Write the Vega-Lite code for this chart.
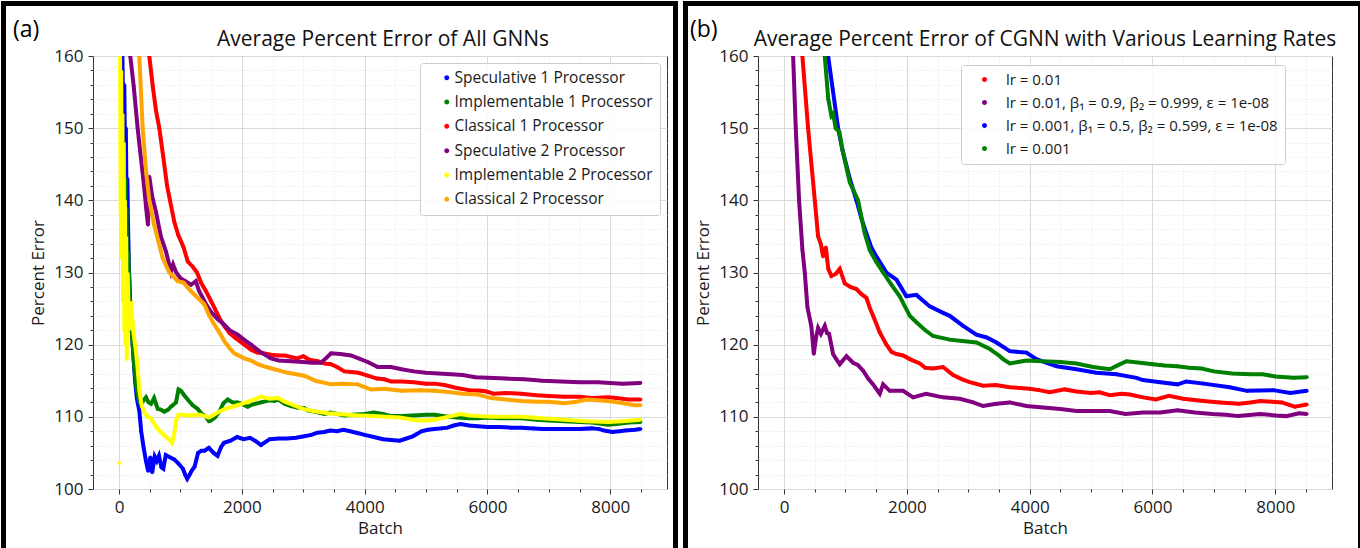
{
 "$schema": "https://vega.github.io/schema/vega-lite/v6.json",
 "padding": 0,
 "background": "white",
 "spacing": 3,
 "resolve": {"scale": {"color": "independent"}, "legend": {"color": "independent"}},
 "config": {
  "font": "Open Sans",
  "view": {"stroke": "#333333", "strokeWidth": 1},
  "axis": {"labelFontSize": 17, "labelColor": "#1a1a1a", "titleFontSize": 17, "titleFontWeight": "normal", "titleColor": "#1a1a1a", "tickColor": "#333333", "domain": false, "gridColor": "#d9d9d9", "labelFont": "Open Sans", "titleFont": "Open Sans"},
  "legend": {"labelColor": "#1a1a1a", "labelFont": "Open Sans", "labelLimit": 500},
  "text": {"font": "Open Sans"}
 },
 "datasets": {
  "a": [
   {"s":"Speculative 1 Processor","b":30,"e":170},{"s":"Speculative 1 Processor","b":55,"e":159},{"s":"Speculative 1 Processor","b":70,"e":152},{"s":"Speculative 1 Processor","b":85,"e":156},{"s":"Speculative 1 Processor","b":95,"e":147},{"s":"Speculative 1 Processor","b":110,"e":150},{"s":"Speculative 1 Processor","b":120,"e":141},{"s":"Speculative 1 Processor","b":135,"e":143},{"s":"Speculative 1 Processor","b":145,"e":137},{"s":"Speculative 1 Processor","b":160,"e":131},{"s":"Speculative 1 Processor","b":180,"e":126},{"s":"Speculative 1 Processor","b":200,"e":123},{"s":"Speculative 1 Processor","b":230,"e":119},{"s":"Speculative 1 Processor","b":260,"e":115},{"s":"Speculative 1 Processor","b":290,"e":112.5},{"s":"Speculative 1 Processor","b":330,"e":110.8},{"s":"Speculative 1 Processor","b":360,"e":108},{"s":"Speculative 1 Processor","b":400,"e":105.7},{"s":"Speculative 1 Processor","b":440,"e":103.8},{"s":"Speculative 1 Processor","b":473,"e":102.5},{"s":"Speculative 1 Processor","b":509,"e":104.4},{"s":"Speculative 1 Processor","b":540,"e":102.3},{"s":"Speculative 1 Processor","b":580,"e":104.5},{"s":"Speculative 1 Processor","b":615,"e":103.9},{"s":"Speculative 1 Processor","b":650,"e":104.6},{"s":"Speculative 1 Processor","b":690,"e":103},{"s":"Speculative 1 Processor","b":721,"e":102.8},{"s":"Speculative 1 Processor","b":760,"e":104.7},{"s":"Speculative 1 Processor","b":827,"e":104.4},{"s":"Speculative 1 Processor","b":898,"e":104.1},{"s":"Speculative 1 Processor","b":960,"e":103.6},{"s":"Speculative 1 Processor","b":1039,"e":102.8},{"s":"Speculative 1 Processor","b":1080,"e":101.9},{"s":"Speculative 1 Processor","b":1110,"e":101.4},{"s":"Speculative 1 Processor","b":1150,"e":102},{"s":"Speculative 1 Processor","b":1180,"e":102.5},{"s":"Speculative 1 Processor","b":1230,"e":103.1},{"s":"Speculative 1 Processor","b":1286,"e":105},{"s":"Speculative 1 Processor","b":1340,"e":105.3},{"s":"Speculative 1 Processor","b":1392,"e":105.3},{"s":"Speculative 1 Processor","b":1463,"e":105.7},{"s":"Speculative 1 Processor","b":1540,"e":105},{"s":"Speculative 1 Processor","b":1604,"e":104.6},{"s":"Speculative 1 Processor","b":1660,"e":105.8},{"s":"Speculative 1 Processor","b":1710,"e":106.4},{"s":"Speculative 1 Processor","b":1816,"e":106.7},{"s":"Speculative 1 Processor","b":1922,"e":107.2},{"s":"Speculative 1 Processor","b":2028,"e":106.9},{"s":"Speculative 1 Processor","b":2134,"e":107.1},{"s":"Speculative 1 Processor","b":2230,"e":106.6},{"s":"Speculative 1 Processor","b":2311,"e":106.1},{"s":"Speculative 1 Processor","b":2400,"e":106.6},{"s":"Speculative 1 Processor","b":2452,"e":106.9},{"s":"Speculative 1 Processor","b":2600,"e":107},{"s":"Speculative 1 Processor","b":2735,"e":107},{"s":"Speculative 1 Processor","b":2880,"e":107.1},{"s":"Speculative 1 Processor","b":3017,"e":107.3},{"s":"Speculative 1 Processor","b":3130,"e":107.5},{"s":"Speculative 1 Processor","b":3230,"e":107.8},{"s":"Speculative 1 Processor","b":3340,"e":107.9},{"s":"Speculative 1 Processor","b":3442,"e":108.1},{"s":"Speculative 1 Processor","b":3550,"e":108},{"s":"Speculative 1 Processor","b":3654,"e":108.2},{"s":"Speculative 1 Processor","b":3760,"e":108},{"s":"Speculative 1 Processor","b":3866,"e":107.8},{"s":"Speculative 1 Processor","b":4000,"e":107.5},{"s":"Speculative 1 Processor","b":4148,"e":107.2},{"s":"Speculative 1 Processor","b":4300,"e":106.9},{"s":"Speculative 1 Processor","b":4431,"e":106.8},{"s":"Speculative 1 Processor","b":4572,"e":106.7},{"s":"Speculative 1 Processor","b":4680,"e":107},{"s":"Speculative 1 Processor","b":4784,"e":107.3},{"s":"Speculative 1 Processor","b":4926,"e":108},{"s":"Speculative 1 Processor","b":5030,"e":108.2},{"s":"Speculative 1 Processor","b":5138,"e":108.3},{"s":"Speculative 1 Processor","b":5250,"e":108.4},{"s":"Speculative 1 Processor","b":5350,"e":108.5},{"s":"Speculative 1 Processor","b":5450,"e":108.8},{"s":"Speculative 1 Processor","b":5562,"e":109},{"s":"Speculative 1 Processor","b":5700,"e":108.8},{"s":"Speculative 1 Processor","b":5844,"e":108.7},{"s":"Speculative 1 Processor","b":6000,"e":108.6},{"s":"Speculative 1 Processor","b":6198,"e":108.6},{"s":"Speculative 1 Processor","b":6380,"e":108.5},{"s":"Speculative 1 Processor","b":6551,"e":108.5},{"s":"Speculative 1 Processor","b":6750,"e":108.4},{"s":"Speculative 1 Processor","b":6904,"e":108.3},{"s":"Speculative 1 Processor","b":7100,"e":108.3},{"s":"Speculative 1 Processor","b":7258,"e":108.3},{"s":"Speculative 1 Processor","b":7500,"e":108.3},{"s":"Speculative 1 Processor","b":7700,"e":108.4},{"s":"Speculative 1 Processor","b":7823,"e":108.3},{"s":"Speculative 1 Processor","b":7900,"e":108.1},{"s":"Speculative 1 Processor","b":8035,"e":107.9},{"s":"Speculative 1 Processor","b":8150,"e":108},{"s":"Speculative 1 Processor","b":8247,"e":108.1},{"s":"Speculative 1 Processor","b":8400,"e":108.2},{"s":"Speculative 1 Processor","b":8495,"e":108.3},
   {"s":"Implementable 1 Processor","b":60,"e":146},{"s":"Implementable 1 Processor","b":70,"e":130},{"s":"Implementable 1 Processor","b":80,"e":148},{"s":"Implementable 1 Processor","b":90,"e":128},{"s":"Implementable 1 Processor","b":100,"e":143},{"s":"Implementable 1 Processor","b":110,"e":127},{"s":"Implementable 1 Processor","b":120,"e":139},{"s":"Implementable 1 Processor","b":130,"e":129},{"s":"Implementable 1 Processor","b":150,"e":133},{"s":"Implementable 1 Processor","b":170,"e":127},{"s":"Implementable 1 Processor","b":194,"e":123.7},{"s":"Implementable 1 Processor","b":220,"e":120},{"s":"Implementable 1 Processor","b":248,"e":116.7},{"s":"Implementable 1 Processor","b":275,"e":114.5},{"s":"Implementable 1 Processor","b":302,"e":113.2},{"s":"Implementable 1 Processor","b":330,"e":112},{"s":"Implementable 1 Processor","b":357,"e":111.8},{"s":"Implementable 1 Processor","b":400,"e":112.3},{"s":"Implementable 1 Processor","b":438,"e":112.7},{"s":"Implementable 1 Processor","b":480,"e":112},{"s":"Implementable 1 Processor","b":520,"e":111.8},{"s":"Implementable 1 Processor","b":570,"e":112.6},{"s":"Implementable 1 Processor","b":629,"e":111.1},{"s":"Implementable 1 Processor","b":680,"e":111},{"s":"Implementable 1 Processor","b":736,"e":110.7},{"s":"Implementable 1 Processor","b":800,"e":111},{"s":"Implementable 1 Processor","b":845,"e":111.4},{"s":"Implementable 1 Processor","b":927,"e":112},{"s":"Implementable 1 Processor","b":968,"e":113.8},{"s":"Implementable 1 Processor","b":1008,"e":113.6},{"s":"Implementable 1 Processor","b":1060,"e":113},{"s":"Implementable 1 Processor","b":1117,"e":112.4},{"s":"Implementable 1 Processor","b":1200,"e":111.6},{"s":"Implementable 1 Processor","b":1280,"e":111.1},{"s":"Implementable 1 Processor","b":1350,"e":110.4},{"s":"Implementable 1 Processor","b":1416,"e":110},{"s":"Implementable 1 Processor","b":1463,"e":109.4},{"s":"Implementable 1 Processor","b":1497,"e":109.5},{"s":"Implementable 1 Processor","b":1560,"e":109.9},{"s":"Implementable 1 Processor","b":1633,"e":110.7},{"s":"Implementable 1 Processor","b":1700,"e":111.9},{"s":"Implementable 1 Processor","b":1769,"e":112.4},{"s":"Implementable 1 Processor","b":1850,"e":112},{"s":"Implementable 1 Processor","b":1932,"e":112},{"s":"Implementable 1 Processor","b":2000,"e":111.8},{"s":"Implementable 1 Processor","b":2095,"e":111.4},{"s":"Implementable 1 Processor","b":2170,"e":111.7},{"s":"Implementable 1 Processor","b":2312,"e":112},{"s":"Implementable 1 Processor","b":2450,"e":112.3},{"s":"Implementable 1 Processor","b":2528,"e":112.2},{"s":"Implementable 1 Processor","b":2594,"e":112.4},{"s":"Implementable 1 Processor","b":2700,"e":111.8},{"s":"Implementable 1 Processor","b":2800,"e":111.5},{"s":"Implementable 1 Processor","b":2900,"e":111.3},{"s":"Implementable 1 Processor","b":3017,"e":111.2},{"s":"Implementable 1 Processor","b":3072,"e":110.9},{"s":"Implementable 1 Processor","b":3200,"e":110.7},{"s":"Implementable 1 Processor","b":3344,"e":110.4},{"s":"Implementable 1 Processor","b":3442,"e":110.6},{"s":"Implementable 1 Processor","b":3560,"e":110.4},{"s":"Implementable 1 Processor","b":3669,"e":110.2},{"s":"Implementable 1 Processor","b":3800,"e":110.3},{"s":"Implementable 1 Processor","b":4000,"e":110.4},{"s":"Implementable 1 Processor","b":4148,"e":110.6},{"s":"Implementable 1 Processor","b":4300,"e":110.4},{"s":"Implementable 1 Processor","b":4431,"e":110.1},{"s":"Implementable 1 Processor","b":4600,"e":110.1},{"s":"Implementable 1 Processor","b":4800,"e":110.2},{"s":"Implementable 1 Processor","b":5000,"e":110.3},{"s":"Implementable 1 Processor","b":5138,"e":110.3},{"s":"Implementable 1 Processor","b":5300,"e":110.1},{"s":"Implementable 1 Processor","b":5500,"e":109.9},{"s":"Implementable 1 Processor","b":5700,"e":109.8},{"s":"Implementable 1 Processor","b":5844,"e":109.8},{"s":"Implementable 1 Processor","b":6000,"e":109.9},{"s":"Implementable 1 Processor","b":6200,"e":109.8},{"s":"Implementable 1 Processor","b":6400,"e":109.8},{"s":"Implementable 1 Processor","b":6551,"e":109.8},{"s":"Implementable 1 Processor","b":6800,"e":109.6},{"s":"Implementable 1 Processor","b":7000,"e":109.5},{"s":"Implementable 1 Processor","b":7258,"e":109.4},{"s":"Implementable 1 Processor","b":7500,"e":109.3},{"s":"Implementable 1 Processor","b":7700,"e":109.2},{"s":"Implementable 1 Processor","b":7965,"e":108.9},{"s":"Implementable 1 Processor","b":8100,"e":109},{"s":"Implementable 1 Processor","b":8300,"e":109.2},{"s":"Implementable 1 Processor","b":8495,"e":109.3},
   {"s":"Classical 1 Processor","b":470,"e":165},{"s":"Classical 1 Processor","b":492,"e":160},{"s":"Classical 1 Processor","b":547,"e":155.9},{"s":"Classical 1 Processor","b":600,"e":152.5},{"s":"Classical 1 Processor","b":655,"e":150},{"s":"Classical 1 Processor","b":720,"e":146},{"s":"Classical 1 Processor","b":780,"e":142.1},{"s":"Classical 1 Processor","b":829,"e":140},{"s":"Classical 1 Processor","b":900,"e":137},{"s":"Classical 1 Processor","b":964,"e":135.2},{"s":"Classical 1 Processor","b":1050,"e":133.5},{"s":"Classical 1 Processor","b":1120,"e":131.5},{"s":"Classical 1 Processor","b":1200,"e":130.8},{"s":"Classical 1 Processor","b":1269,"e":130},{"s":"Classical 1 Processor","b":1340,"e":128.5},{"s":"Classical 1 Processor","b":1416,"e":127.4},{"s":"Classical 1 Processor","b":1500,"e":126},{"s":"Classical 1 Processor","b":1560,"e":125},{"s":"Classical 1 Processor","b":1633,"e":123.7},{"s":"Classical 1 Processor","b":1720,"e":122.5},{"s":"Classical 1 Processor","b":1800,"e":121.6},{"s":"Classical 1 Processor","b":1900,"e":120.9},{"s":"Classical 1 Processor","b":2040,"e":120},{"s":"Classical 1 Processor","b":2150,"e":119.3},{"s":"Classical 1 Processor","b":2250,"e":118.9},{"s":"Classical 1 Processor","b":2350,"e":118.8},{"s":"Classical 1 Processor","b":2474,"e":118.6},{"s":"Classical 1 Processor","b":2600,"e":118.5},{"s":"Classical 1 Processor","b":2700,"e":118.5},{"s":"Classical 1 Processor","b":2800,"e":118.3},{"s":"Classical 1 Processor","b":2900,"e":118.1},{"s":"Classical 1 Processor","b":3000,"e":118.4},{"s":"Classical 1 Processor","b":3100,"e":117.9},{"s":"Classical 1 Processor","b":3235,"e":117.7},{"s":"Classical 1 Processor","b":3350,"e":117.4},{"s":"Classical 1 Processor","b":3450,"e":117.3},{"s":"Classical 1 Processor","b":3550,"e":116.9},{"s":"Classical 1 Processor","b":3669,"e":116.3},{"s":"Classical 1 Processor","b":3780,"e":116.2},{"s":"Classical 1 Processor","b":3900,"e":116.1},{"s":"Classical 1 Processor","b":4050,"e":115.7},{"s":"Classical 1 Processor","b":4200,"e":115.3},{"s":"Classical 1 Processor","b":4320,"e":115.2},{"s":"Classical 1 Processor","b":4430,"e":114.9},{"s":"Classical 1 Processor","b":4600,"e":114.9},{"s":"Classical 1 Processor","b":4800,"e":114.8},{"s":"Classical 1 Processor","b":5000,"e":114.6},{"s":"Classical 1 Processor","b":5138,"e":114.6},{"s":"Classical 1 Processor","b":5300,"e":114.4},{"s":"Classical 1 Processor","b":5500,"e":114},{"s":"Classical 1 Processor","b":5700,"e":113.7},{"s":"Classical 1 Processor","b":5900,"e":113.6},{"s":"Classical 1 Processor","b":5986,"e":113.5},{"s":"Classical 1 Processor","b":6100,"e":113.2},{"s":"Classical 1 Processor","b":6300,"e":113.3},{"s":"Classical 1 Processor","b":6551,"e":113.2},{"s":"Classical 1 Processor","b":6800,"e":113},{"s":"Classical 1 Processor","b":7000,"e":112.9},{"s":"Classical 1 Processor","b":7258,"e":112.8},{"s":"Classical 1 Processor","b":7500,"e":112.8},{"s":"Classical 1 Processor","b":7700,"e":112.6},{"s":"Classical 1 Processor","b":7965,"e":112.7},{"s":"Classical 1 Processor","b":8100,"e":112.6},{"s":"Classical 1 Processor","b":8300,"e":112.4},{"s":"Classical 1 Processor","b":8495,"e":112.4},
   {"s":"Speculative 2 Processor","b":160,"e":170},{"s":"Speculative 2 Processor","b":182,"e":160},{"s":"Speculative 2 Processor","b":237,"e":155.9},{"s":"Speculative 2 Processor","b":302,"e":150},{"s":"Speculative 2 Processor","b":345,"e":146.7},{"s":"Speculative 2 Processor","b":400,"e":142.5},{"s":"Speculative 2 Processor","b":440,"e":139},{"s":"Speculative 2 Processor","b":470,"e":136.6},{"s":"Speculative 2 Processor","b":480,"e":142},{"s":"Speculative 2 Processor","b":492,"e":143.3},{"s":"Speculative 2 Processor","b":540,"e":140.5},{"s":"Speculative 2 Processor","b":601,"e":138.4},{"s":"Speculative 2 Processor","b":680,"e":135},{"s":"Speculative 2 Processor","b":764,"e":132.9},{"s":"Speculative 2 Processor","b":845,"e":130.1},{"s":"Speculative 2 Processor","b":880,"e":131.1},{"s":"Speculative 2 Processor","b":930,"e":130},{"s":"Speculative 2 Processor","b":1000,"e":129.2},{"s":"Speculative 2 Processor","b":1080,"e":128.8},{"s":"Speculative 2 Processor","b":1171,"e":128.3},{"s":"Speculative 2 Processor","b":1250,"e":128.8},{"s":"Speculative 2 Processor","b":1300,"e":127.5},{"s":"Speculative 2 Processor","b":1416,"e":125.6},{"s":"Speculative 2 Processor","b":1500,"e":124.5},{"s":"Speculative 2 Processor","b":1600,"e":123.6},{"s":"Speculative 2 Processor","b":1709,"e":122.8},{"s":"Speculative 2 Processor","b":1800,"e":122},{"s":"Speculative 2 Processor","b":1932,"e":121.4},{"s":"Speculative 2 Processor","b":2050,"e":120.6},{"s":"Speculative 2 Processor","b":2149,"e":120},{"s":"Speculative 2 Processor","b":2300,"e":119},{"s":"Speculative 2 Processor","b":2474,"e":118.1},{"s":"Speculative 2 Processor","b":2600,"e":117.8},{"s":"Speculative 2 Processor","b":2800,"e":117.7},{"s":"Speculative 2 Processor","b":3000,"e":117.6},{"s":"Speculative 2 Processor","b":3150,"e":117.5},{"s":"Speculative 2 Processor","b":3289,"e":117.5},{"s":"Speculative 2 Processor","b":3380,"e":118.2},{"s":"Speculative 2 Processor","b":3452,"e":118.8},{"s":"Speculative 2 Processor","b":3600,"e":118.7},{"s":"Speculative 2 Processor","b":3778,"e":118.5},{"s":"Speculative 2 Processor","b":3900,"e":118.1},{"s":"Speculative 2 Processor","b":4050,"e":117.6},{"s":"Speculative 2 Processor","b":4213,"e":116.9},{"s":"Speculative 2 Processor","b":4430,"e":116.9},{"s":"Speculative 2 Processor","b":4600,"e":116.6},{"s":"Speculative 2 Processor","b":4800,"e":116.3},{"s":"Speculative 2 Processor","b":5000,"e":116.1},{"s":"Speculative 2 Processor","b":5200,"e":116},{"s":"Speculative 2 Processor","b":5400,"e":115.9},{"s":"Speculative 2 Processor","b":5600,"e":115.8},{"s":"Speculative 2 Processor","b":5800,"e":115.5},{"s":"Speculative 2 Processor","b":6000,"e":115.4},{"s":"Speculative 2 Processor","b":6300,"e":115.3},{"s":"Speculative 2 Processor","b":6600,"e":115.2},{"s":"Speculative 2 Processor","b":6900,"e":115},{"s":"Speculative 2 Processor","b":7200,"e":114.9},{"s":"Speculative 2 Processor","b":7500,"e":114.8},{"s":"Speculative 2 Processor","b":7800,"e":114.8},{"s":"Speculative 2 Processor","b":8000,"e":114.7},{"s":"Speculative 2 Processor","b":8200,"e":114.6},{"s":"Speculative 2 Processor","b":8495,"e":114.7},
   {"s":"Implementable 2 Processor","b":0,"e":103.6,"g":1},{"s":"Implementable 2 Processor","b":15,"e":162},{"s":"Implementable 2 Processor","b":25,"e":138},{"s":"Implementable 2 Processor","b":35,"e":158},{"s":"Implementable 2 Processor","b":45,"e":132},{"s":"Implementable 2 Processor","b":55,"e":152},{"s":"Implementable 2 Processor","b":65,"e":126},{"s":"Implementable 2 Processor","b":75,"e":148},{"s":"Implementable 2 Processor","b":85,"e":122},{"s":"Implementable 2 Processor","b":95,"e":140},{"s":"Implementable 2 Processor","b":105,"e":120},{"s":"Implementable 2 Processor","b":115,"e":135},{"s":"Implementable 2 Processor","b":125,"e":118},{"s":"Implementable 2 Processor","b":140,"e":130},{"s":"Implementable 2 Processor","b":160,"e":122},{"s":"Implementable 2 Processor","b":194,"e":126},{"s":"Implementable 2 Processor","b":230,"e":122},{"s":"Implementable 2 Processor","b":275,"e":119},{"s":"Implementable 2 Processor","b":302,"e":116.7},{"s":"Implementable 2 Processor","b":332,"e":113.5},{"s":"Implementable 2 Processor","b":370,"e":111.5},{"s":"Implementable 2 Processor","b":420,"e":110.5},{"s":"Implementable 2 Processor","b":466,"e":110},{"s":"Implementable 2 Processor","b":509,"e":109.9},{"s":"Implementable 2 Processor","b":560,"e":109.2},{"s":"Implementable 2 Processor","b":615,"e":108.5},{"s":"Implementable 2 Processor","b":690,"e":107.8},{"s":"Implementable 2 Processor","b":756,"e":107.3},{"s":"Implementable 2 Processor","b":820,"e":106.8},{"s":"Implementable 2 Processor","b":862,"e":106.4},{"s":"Implementable 2 Processor","b":898,"e":107.6},{"s":"Implementable 2 Processor","b":930,"e":109.5},{"s":"Implementable 2 Processor","b":968,"e":110.3},{"s":"Implementable 2 Processor","b":1039,"e":110.3},{"s":"Implementable 2 Processor","b":1150,"e":110.2},{"s":"Implementable 2 Processor","b":1250,"e":110.3},{"s":"Implementable 2 Processor","b":1322,"e":110.3},{"s":"Implementable 2 Processor","b":1400,"e":110.1},{"s":"Implementable 2 Processor","b":1463,"e":109.9},{"s":"Implementable 2 Processor","b":1530,"e":110.2},{"s":"Implementable 2 Processor","b":1604,"e":110.6},{"s":"Implementable 2 Processor","b":1700,"e":111},{"s":"Implementable 2 Processor","b":1800,"e":111.3},{"s":"Implementable 2 Processor","b":1887,"e":111.5},{"s":"Implementable 2 Processor","b":2000,"e":111.8},{"s":"Implementable 2 Processor","b":2134,"e":112.2},{"s":"Implementable 2 Processor","b":2230,"e":112.5},{"s":"Implementable 2 Processor","b":2311,"e":112.8},{"s":"Implementable 2 Processor","b":2450,"e":112.5},{"s":"Implementable 2 Processor","b":2594,"e":112.6},{"s":"Implementable 2 Processor","b":2700,"e":112.1},{"s":"Implementable 2 Processor","b":2876,"e":111.5},{"s":"Implementable 2 Processor","b":3000,"e":111.1},{"s":"Implementable 2 Processor","b":3159,"e":110.8},{"s":"Implementable 2 Processor","b":3400,"e":110.5},{"s":"Implementable 2 Processor","b":3724,"e":110.3},{"s":"Implementable 2 Processor","b":3900,"e":110.2},{"s":"Implementable 2 Processor","b":4148,"e":110.1},{"s":"Implementable 2 Processor","b":4350,"e":110},{"s":"Implementable 2 Processor","b":4572,"e":109.9},{"s":"Implementable 2 Processor","b":4855,"e":109.5},{"s":"Implementable 2 Processor","b":5000,"e":109.5},{"s":"Implementable 2 Processor","b":5138,"e":109.6},{"s":"Implementable 2 Processor","b":5350,"e":110},{"s":"Implementable 2 Processor","b":5562,"e":110.4},{"s":"Implementable 2 Processor","b":5700,"e":110.2},{"s":"Implementable 2 Processor","b":5844,"e":110.1},{"s":"Implementable 2 Processor","b":6100,"e":110},{"s":"Implementable 2 Processor","b":6551,"e":110},{"s":"Implementable 2 Processor","b":6900,"e":109.8},{"s":"Implementable 2 Processor","b":7258,"e":109.6},{"s":"Implementable 2 Processor","b":7600,"e":109.4},{"s":"Implementable 2 Processor","b":7965,"e":109.3},{"s":"Implementable 2 Processor","b":8200,"e":109.4},{"s":"Implementable 2 Processor","b":8495,"e":109.6},
   {"s":"Classical 2 Processor","b":310,"e":170},{"s":"Classical 2 Processor","b":329,"e":160},{"s":"Classical 2 Processor","b":384,"e":150},{"s":"Classical 2 Processor","b":440,"e":144},{"s":"Classical 2 Processor","b":492,"e":140},{"s":"Classical 2 Processor","b":560,"e":137},{"s":"Classical 2 Processor","b":628,"e":134.7},{"s":"Classical 2 Processor","b":710,"e":132},{"s":"Classical 2 Processor","b":818,"e":130},{"s":"Classical 2 Processor","b":880,"e":129.5},{"s":"Classical 2 Processor","b":954,"e":128.8},{"s":"Classical 2 Processor","b":1050,"e":128.6},{"s":"Classical 2 Processor","b":1171,"e":127.4},{"s":"Classical 2 Processor","b":1280,"e":126.5},{"s":"Classical 2 Processor","b":1388,"e":125.6},{"s":"Classical 2 Processor","b":1470,"e":124},{"s":"Classical 2 Processor","b":1551,"e":122.8},{"s":"Classical 2 Processor","b":1640,"e":121.6},{"s":"Classical 2 Processor","b":1714,"e":120.5},{"s":"Classical 2 Processor","b":1800,"e":119.5},{"s":"Classical 2 Processor","b":1877,"e":118.8},{"s":"Classical 2 Processor","b":2040,"e":118.1},{"s":"Classical 2 Processor","b":2150,"e":117.8},{"s":"Classical 2 Processor","b":2257,"e":117.3},{"s":"Classical 2 Processor","b":2400,"e":116.9},{"s":"Classical 2 Processor","b":2528,"e":116.6},{"s":"Classical 2 Processor","b":2750,"e":116.1},{"s":"Classical 2 Processor","b":3017,"e":115.7},{"s":"Classical 2 Processor","b":3200,"e":115},{"s":"Classical 2 Processor","b":3452,"e":114.5},{"s":"Classical 2 Processor","b":3650,"e":114.6},{"s":"Classical 2 Processor","b":3887,"e":114.5},{"s":"Classical 2 Processor","b":4100,"e":113.8},{"s":"Classical 2 Processor","b":4320,"e":113.9},{"s":"Classical 2 Processor","b":4600,"e":113.6},{"s":"Classical 2 Processor","b":4900,"e":113.7},{"s":"Classical 2 Processor","b":5138,"e":113.6},{"s":"Classical 2 Processor","b":5400,"e":113.4},{"s":"Classical 2 Processor","b":5600,"e":113.2},{"s":"Classical 2 Processor","b":5844,"e":113.1},{"s":"Classical 2 Processor","b":6056,"e":112.6},{"s":"Classical 2 Processor","b":6300,"e":112.4},{"s":"Classical 2 Processor","b":6551,"e":112.2},{"s":"Classical 2 Processor","b":6800,"e":112.1},{"s":"Classical 2 Processor","b":7000,"e":112.1},{"s":"Classical 2 Processor","b":7258,"e":111.9},{"s":"Classical 2 Processor","b":7450,"e":112.1},{"s":"Classical 2 Processor","b":7611,"e":112.4},{"s":"Classical 2 Processor","b":7800,"e":112.3},{"s":"Classical 2 Processor","b":7965,"e":112.2},{"s":"Classical 2 Processor","b":8200,"e":111.9},{"s":"Classical 2 Processor","b":8400,"e":111.6},{"s":"Classical 2 Processor","b":8495,"e":111.6}
  ],
  "b": [
   {"s":"lr = 0.01","b":280,"e":170},{"s":"lr = 0.01","b":298,"e":160},{"s":"lr = 0.01","b":391,"e":150},{"s":"lr = 0.01","b":500,"e":140},{"s":"lr = 0.01","b":554,"e":135},{"s":"lr = 0.01","b":600,"e":133.9},{"s":"lr = 0.01","b":635,"e":132.2},{"s":"lr = 0.01","b":680,"e":133.5},{"s":"lr = 0.01","b":720,"e":130.5},{"s":"lr = 0.01","b":771,"e":129.5},{"s":"lr = 0.01","b":840,"e":129.8},{"s":"lr = 0.01","b":907,"e":130.5},{"s":"lr = 0.01","b":989,"e":128.5},{"s":"lr = 0.01","b":1080,"e":128},{"s":"lr = 0.01","b":1178,"e":127.7},{"s":"lr = 0.01","b":1260,"e":127},{"s":"lr = 0.01","b":1341,"e":126.5},{"s":"lr = 0.01","b":1400,"e":125},{"s":"lr = 0.01","b":1450,"e":124},{"s":"lr = 0.01","b":1558,"e":121.7},{"s":"lr = 0.01","b":1667,"e":120},{"s":"lr = 0.01","b":1750,"e":119},{"s":"lr = 0.01","b":1830,"e":118.7},{"s":"lr = 0.01","b":1940,"e":118.5},{"s":"lr = 0.01","b":2047,"e":118},{"s":"lr = 0.01","b":2210,"e":117.4},{"s":"lr = 0.01","b":2300,"e":116.8},{"s":"lr = 0.01","b":2427,"e":116.7},{"s":"lr = 0.01","b":2590,"e":116.9},{"s":"lr = 0.01","b":2753,"e":115.8},{"s":"lr = 0.01","b":2900,"e":115.2},{"s":"lr = 0.01","b":3025,"e":114.8},{"s":"lr = 0.01","b":3242,"e":114.3},{"s":"lr = 0.01","b":3450,"e":114.4},{"s":"lr = 0.01","b":3676,"e":114.1},{"s":"lr = 0.01","b":4002,"e":113.9},{"s":"lr = 0.01","b":4150,"e":113.7},{"s":"lr = 0.01","b":4328,"e":113.4},{"s":"lr = 0.01","b":4573,"e":113.8},{"s":"lr = 0.01","b":4762,"e":113.5},{"s":"lr = 0.01","b":5000,"e":113.3},{"s":"lr = 0.01","b":5138,"e":113.4},{"s":"lr = 0.01","b":5305,"e":113},{"s":"lr = 0.01","b":5500,"e":113.2},{"s":"lr = 0.01","b":5632,"e":113.1},{"s":"lr = 0.01","b":5848,"e":112.7},{"s":"lr = 0.01","b":6056,"e":112.4},{"s":"lr = 0.01","b":6268,"e":112.9},{"s":"lr = 0.01","b":6500,"e":112.5},{"s":"lr = 0.01","b":6834,"e":112.2},{"s":"lr = 0.01","b":7100,"e":112},{"s":"lr = 0.01","b":7400,"e":111.8},{"s":"lr = 0.01","b":7600,"e":112},{"s":"lr = 0.01","b":7753,"e":112.2},{"s":"lr = 0.01","b":7950,"e":112.1},{"s":"lr = 0.01","b":8106,"e":112},{"s":"lr = 0.01","b":8318,"e":111.4},{"s":"lr = 0.01","b":8516,"e":111.7},
   {"s":"lr = 0.01, β₁ = 0.9, β₂ = 0.999, ε = 1e-08","b":130,"e":170},{"s":"lr = 0.01, β₁ = 0.9, β₂ = 0.999, ε = 1e-08","b":147,"e":160},{"s":"lr = 0.01, β₁ = 0.9, β₂ = 0.999, ε = 1e-08","b":190,"e":150},{"s":"lr = 0.01, β₁ = 0.9, β₂ = 0.999, ε = 1e-08","b":244,"e":140},{"s":"lr = 0.01, β₁ = 0.9, β₂ = 0.999, ε = 1e-08","b":298,"e":133.2},{"s":"lr = 0.01, β₁ = 0.9, β₂ = 0.999, ε = 1e-08","b":337,"e":130},{"s":"lr = 0.01, β₁ = 0.9, β₂ = 0.999, ε = 1e-08","b":380,"e":125.2},{"s":"lr = 0.01, β₁ = 0.9, β₂ = 0.999, ε = 1e-08","b":445,"e":122.5},{"s":"lr = 0.01, β₁ = 0.9, β₂ = 0.999, ε = 1e-08","b":484,"e":118.7},{"s":"lr = 0.01, β₁ = 0.9, β₂ = 0.999, ε = 1e-08","b":520,"e":121},{"s":"lr = 0.01, β₁ = 0.9, β₂ = 0.999, ε = 1e-08","b":554,"e":122.3},{"s":"lr = 0.01, β₁ = 0.9, β₂ = 0.999, ε = 1e-08","b":600,"e":121.5},{"s":"lr = 0.01, β₁ = 0.9, β₂ = 0.999, ε = 1e-08","b":663,"e":122.6},{"s":"lr = 0.01, β₁ = 0.9, β₂ = 0.999, ε = 1e-08","b":700,"e":121.6},{"s":"lr = 0.01, β₁ = 0.9, β₂ = 0.999, ε = 1e-08","b":733,"e":121.5},{"s":"lr = 0.01, β₁ = 0.9, β₂ = 0.999, ε = 1e-08","b":798,"e":118.7},{"s":"lr = 0.01, β₁ = 0.9, β₂ = 0.999, ε = 1e-08","b":850,"e":118},{"s":"lr = 0.01, β₁ = 0.9, β₂ = 0.999, ε = 1e-08","b":907,"e":117.3},{"s":"lr = 0.01, β₁ = 0.9, β₂ = 0.999, ε = 1e-08","b":1016,"e":118.4},{"s":"lr = 0.01, β₁ = 0.9, β₂ = 0.999, ε = 1e-08","b":1124,"e":117.5},{"s":"lr = 0.01, β₁ = 0.9, β₂ = 0.999, ε = 1e-08","b":1200,"e":117.2},{"s":"lr = 0.01, β₁ = 0.9, β₂ = 0.999, ε = 1e-08","b":1287,"e":116.4},{"s":"lr = 0.01, β₁ = 0.9, β₂ = 0.999, ε = 1e-08","b":1370,"e":115.3},{"s":"lr = 0.01, β₁ = 0.9, β₂ = 0.999, ε = 1e-08","b":1450,"e":114.5},{"s":"lr = 0.01, β₁ = 0.9, β₂ = 0.999, ε = 1e-08","b":1558,"e":113.2},{"s":"lr = 0.01, β₁ = 0.9, β₂ = 0.999, ε = 1e-08","b":1613,"e":114.5},{"s":"lr = 0.01, β₁ = 0.9, β₂ = 0.999, ε = 1e-08","b":1722,"e":113.6},{"s":"lr = 0.01, β₁ = 0.9, β₂ = 0.999, ε = 1e-08","b":1938,"e":113.6},{"s":"lr = 0.01, β₁ = 0.9, β₂ = 0.999, ε = 1e-08","b":2101,"e":112.7},{"s":"lr = 0.01, β₁ = 0.9, β₂ = 0.999, ε = 1e-08","b":2313,"e":113.2},{"s":"lr = 0.01, β₁ = 0.9, β₂ = 0.999, ε = 1e-08","b":2590,"e":112.7},{"s":"lr = 0.01, β₁ = 0.9, β₂ = 0.999, ε = 1e-08","b":2862,"e":112.5},{"s":"lr = 0.01, β₁ = 0.9, β₂ = 0.999, ε = 1e-08","b":3079,"e":112},{"s":"lr = 0.01, β₁ = 0.9, β₂ = 0.999, ε = 1e-08","b":3242,"e":111.5},{"s":"lr = 0.01, β₁ = 0.9, β₂ = 0.999, ε = 1e-08","b":3459,"e":111.8},{"s":"lr = 0.01, β₁ = 0.9, β₂ = 0.999, ε = 1e-08","b":3676,"e":112},{"s":"lr = 0.01, β₁ = 0.9, β₂ = 0.999, ε = 1e-08","b":3948,"e":111.5},{"s":"lr = 0.01, β₁ = 0.9, β₂ = 0.999, ε = 1e-08","b":4219,"e":111.3},{"s":"lr = 0.01, β₁ = 0.9, β₂ = 0.999, ε = 1e-08","b":4500,"e":111.1},{"s":"lr = 0.01, β₁ = 0.9, β₂ = 0.999, ε = 1e-08","b":4762,"e":110.8},{"s":"lr = 0.01, β₁ = 0.9, β₂ = 0.999, ε = 1e-08","b":5138,"e":110.8},{"s":"lr = 0.01, β₁ = 0.9, β₂ = 0.999, ε = 1e-08","b":5305,"e":110.8},{"s":"lr = 0.01, β₁ = 0.9, β₂ = 0.999, ε = 1e-08","b":5562,"e":110.4},{"s":"lr = 0.01, β₁ = 0.9, β₂ = 0.999, ε = 1e-08","b":5845,"e":110.6},{"s":"lr = 0.01, β₁ = 0.9, β₂ = 0.999, ε = 1e-08","b":6127,"e":110.6},{"s":"lr = 0.01, β₁ = 0.9, β₂ = 0.999, ε = 1e-08","b":6410,"e":110.9},{"s":"lr = 0.01, β₁ = 0.9, β₂ = 0.999, ε = 1e-08","b":6692,"e":110.6},{"s":"lr = 0.01, β₁ = 0.9, β₂ = 0.999, ε = 1e-08","b":6975,"e":110.4},{"s":"lr = 0.01, β₁ = 0.9, β₂ = 0.999, ε = 1e-08","b":7200,"e":110.3},{"s":"lr = 0.01, β₁ = 0.9, β₂ = 0.999, ε = 1e-08","b":7400,"e":110.1},{"s":"lr = 0.01, β₁ = 0.9, β₂ = 0.999, ε = 1e-08","b":7753,"e":110.4},{"s":"lr = 0.01, β₁ = 0.9, β₂ = 0.999, ε = 1e-08","b":8000,"e":110.2},{"s":"lr = 0.01, β₁ = 0.9, β₂ = 0.999, ε = 1e-08","b":8176,"e":110.1},{"s":"lr = 0.01, β₁ = 0.9, β₂ = 0.999, ε = 1e-08","b":8389,"e":110.5},{"s":"lr = 0.01, β₁ = 0.9, β₂ = 0.999, ε = 1e-08","b":8516,"e":110.4},
   {"s":"lr = 0.001, β₁ = 0.5, β₂ = 0.599, ε = 1e-08","b":690,"e":170},{"s":"lr = 0.001, β₁ = 0.5, β₂ = 0.599, ε = 1e-08","b":717,"e":160},{"s":"lr = 0.001, β₁ = 0.5, β₂ = 0.599, ε = 1e-08","b":880,"e":150},{"s":"lr = 0.001, β₁ = 0.5, β₂ = 0.599, ε = 1e-08","b":950,"e":147},{"s":"lr = 0.001, β₁ = 0.5, β₂ = 0.599, ε = 1e-08","b":1070,"e":143},{"s":"lr = 0.001, β₁ = 0.5, β₂ = 0.599, ε = 1e-08","b":1178,"e":140},{"s":"lr = 0.001, β₁ = 0.5, β₂ = 0.599, ε = 1e-08","b":1260,"e":137.5},{"s":"lr = 0.001, β₁ = 0.5, β₂ = 0.599, ε = 1e-08","b":1341,"e":135.4},{"s":"lr = 0.001, β₁ = 0.5, β₂ = 0.599, ε = 1e-08","b":1420,"e":133.5},{"s":"lr = 0.001, β₁ = 0.5, β₂ = 0.599, ε = 1e-08","b":1504,"e":132.2},{"s":"lr = 0.001, β₁ = 0.5, β₂ = 0.599, ε = 1e-08","b":1667,"e":130},{"s":"lr = 0.001, β₁ = 0.5, β₂ = 0.599, ε = 1e-08","b":1830,"e":129},{"s":"lr = 0.001, β₁ = 0.5, β₂ = 0.599, ε = 1e-08","b":1992,"e":126.7},{"s":"lr = 0.001, β₁ = 0.5, β₂ = 0.599, ε = 1e-08","b":2155,"e":126.9},{"s":"lr = 0.001, β₁ = 0.5, β₂ = 0.599, ε = 1e-08","b":2373,"e":125.3},{"s":"lr = 0.001, β₁ = 0.5, β₂ = 0.599, ε = 1e-08","b":2590,"e":124.4},{"s":"lr = 0.001, β₁ = 0.5, β₂ = 0.599, ε = 1e-08","b":2698,"e":124},{"s":"lr = 0.001, β₁ = 0.5, β₂ = 0.599, ε = 1e-08","b":2916,"e":122.6},{"s":"lr = 0.001, β₁ = 0.5, β₂ = 0.599, ε = 1e-08","b":3133,"e":121.4},{"s":"lr = 0.001, β₁ = 0.5, β₂ = 0.599, ε = 1e-08","b":3300,"e":121},{"s":"lr = 0.001, β₁ = 0.5, β₂ = 0.599, ε = 1e-08","b":3459,"e":120.3},{"s":"lr = 0.001, β₁ = 0.5, β₂ = 0.599, ε = 1e-08","b":3676,"e":119.1},{"s":"lr = 0.001, β₁ = 0.5, β₂ = 0.599, ε = 1e-08","b":3948,"e":118.9},{"s":"lr = 0.001, β₁ = 0.5, β₂ = 0.599, ε = 1e-08","b":4111,"e":118},{"s":"lr = 0.001, β₁ = 0.5, β₂ = 0.599, ε = 1e-08","b":4437,"e":117},{"s":"lr = 0.001, β₁ = 0.5, β₂ = 0.599, ε = 1e-08","b":4762,"e":116.6},{"s":"lr = 0.001, β₁ = 0.5, β₂ = 0.599, ε = 1e-08","b":5088,"e":116.1},{"s":"lr = 0.001, β₁ = 0.5, β₂ = 0.599, ε = 1e-08","b":5414,"e":115.9},{"s":"lr = 0.001, β₁ = 0.5, β₂ = 0.599, ε = 1e-08","b":5740,"e":115.4},{"s":"lr = 0.001, β₁ = 0.5, β₂ = 0.599, ε = 1e-08","b":5845,"e":115.1},{"s":"lr = 0.001, β₁ = 0.5, β₂ = 0.599, ε = 1e-08","b":6127,"e":114.8},{"s":"lr = 0.001, β₁ = 0.5, β₂ = 0.599, ε = 1e-08","b":6410,"e":114.5},{"s":"lr = 0.001, β₁ = 0.5, β₂ = 0.599, ε = 1e-08","b":6551,"e":114.9},{"s":"lr = 0.001, β₁ = 0.5, β₂ = 0.599, ε = 1e-08","b":6834,"e":114.6},{"s":"lr = 0.001, β₁ = 0.5, β₂ = 0.599, ε = 1e-08","b":7258,"e":114.1},{"s":"lr = 0.001, β₁ = 0.5, β₂ = 0.599, ε = 1e-08","b":7541,"e":113.6},{"s":"lr = 0.001, β₁ = 0.5, β₂ = 0.599, ε = 1e-08","b":7965,"e":113.7},{"s":"lr = 0.001, β₁ = 0.5, β₂ = 0.599, ε = 1e-08","b":8247,"e":113.3},{"s":"lr = 0.001, β₁ = 0.5, β₂ = 0.599, ε = 1e-08","b":8516,"e":113.6},
   {"s":"lr = 0.001","b":640,"e":170},{"s":"lr = 0.001","b":662,"e":160},{"s":"lr = 0.001","b":720,"e":154},{"s":"lr = 0.001","b":771,"e":151.7},{"s":"lr = 0.001","b":800,"e":152},{"s":"lr = 0.001","b":840,"e":150},{"s":"lr = 0.001","b":900,"e":149.5},{"s":"lr = 0.001","b":950,"e":147},{"s":"lr = 0.001","b":1070,"e":142.5},{"s":"lr = 0.001","b":1205,"e":140},{"s":"lr = 0.001","b":1314,"e":135.4},{"s":"lr = 0.001","b":1395,"e":133.1},{"s":"lr = 0.001","b":1500,"e":131.5},{"s":"lr = 0.001","b":1613,"e":130},{"s":"lr = 0.001","b":1750,"e":128.3},{"s":"lr = 0.001","b":1884,"e":126.7},{"s":"lr = 0.001","b":2047,"e":124},{"s":"lr = 0.001","b":2155,"e":123.1},{"s":"lr = 0.001","b":2300,"e":122},{"s":"lr = 0.001","b":2427,"e":121.2},{"s":"lr = 0.001","b":2698,"e":120.7},{"s":"lr = 0.001","b":2900,"e":120.5},{"s":"lr = 0.001","b":3133,"e":120.3},{"s":"lr = 0.001","b":3351,"e":119.4},{"s":"lr = 0.001","b":3500,"e":118.5},{"s":"lr = 0.001","b":3568,"e":118},{"s":"lr = 0.001","b":3676,"e":117.4},{"s":"lr = 0.001","b":3948,"e":117.8},{"s":"lr = 0.001","b":4200,"e":117.7},{"s":"lr = 0.001","b":4500,"e":117.6},{"s":"lr = 0.001","b":4762,"e":117.4},{"s":"lr = 0.001","b":5033,"e":116.9},{"s":"lr = 0.001","b":5305,"e":116.6},{"s":"lr = 0.001","b":5450,"e":117.2},{"s":"lr = 0.001","b":5577,"e":117.7},{"s":"lr = 0.001","b":5800,"e":117.5},{"s":"lr = 0.001","b":6000,"e":117.3},{"s":"lr = 0.001","b":6200,"e":117.1},{"s":"lr = 0.001","b":6400,"e":117},{"s":"lr = 0.001","b":6600,"e":116.8},{"s":"lr = 0.001","b":6800,"e":116.7},{"s":"lr = 0.001","b":7000,"e":116.3},{"s":"lr = 0.001","b":7300,"e":116},{"s":"lr = 0.001","b":7600,"e":115.9},{"s":"lr = 0.001","b":7800,"e":115.9},{"s":"lr = 0.001","b":8000,"e":115.6},{"s":"lr = 0.001","b":8300,"e":115.4},{"s":"lr = 0.001","b":8516,"e":115.5}
  ]
 },
 "hconcat": [
  {
   "width": 574,
   "height": 433,
   "resolve": {"axis": {"x": "independent", "y": "independent"}},
   "data": {"name": "a"},
   "layer": [
    {
     "data": {"values": [{}]},
     "mark": {"type": "rect", "fill": "black", "strokeWidth": 0, "clip": false},
     "encoding": {
      "x": {"datum": -1923.6, "type": "quantitative", "scale": {"domain": [-425, 8925], "nice": false, "zero": false}, "axis": null},
      "x2": {"datum": -1842.2},
      "y": {"datum": 167.621, "type": "quantitative", "scale": {"domain": [100, 160], "nice": false, "zero": false}, "axis": null},
      "y2": {"datum": 91.686}
     }
    },
    {
     "data": {"values": [{}]},
     "mark": {"type": "rect", "fill": "black", "strokeWidth": 0, "clip": false},
     "encoding": {
      "x": {"datum": 9022.7, "type": "quantitative", "axis": null},
      "x2": {"datum": 9104.2},
      "y": {"datum": 167.621, "type": "quantitative", "axis": null},
      "y2": {"datum": 91.686}
     }
    },
    {
     "data": {"values": [{}]},
     "mark": {"type": "rect", "fill": "black", "strokeWidth": 0, "clip": false},
     "encoding": {
      "x": {"datum": -1923.6, "type": "quantitative", "axis": null},
      "x2": {"datum": 9104.2},
      "y": {"datum": 167.621, "type": "quantitative", "axis": null},
      "y2": {"datum": 166.928}
     }
    },
    {
     "data": {"values": [{}]},
     "mark": {"type": "text", "text": "(a)", "fontSize": 23, "align": "left", "baseline": "alphabetic", "clip": false, "color": "black"},
     "encoding": {
      "x": {"datum": -1728, "type": "quantitative", "axis": null},
      "y": {"datum": 162.633, "type": "quantitative", "axis": null}
     }
    },
    {
     "data": {"values": [{}]},
     "mark": {"type": "text", "text": "Average Percent Error of All GNNs", "fontSize": 21, "align": "center", "baseline": "alphabetic", "clip": false, "color": "#111111"},
     "encoding": {
      "x": {"datum": 4300, "type": "quantitative", "axis": null},
      "y": {"datum": 161.386, "type": "quantitative", "axis": null}
     }
    },
    {
     "mark": {"type": "point", "filled": true, "size": 13, "opacity": 1, "clip": true},
     "encoding": {
      "x": {"field": "b", "type": "quantitative", "scale": {"domain": [-425, 8925], "nice": false, "zero": false},
       "axis": {"orient": "bottom", "values": [500,1000,1500,2500,3000,3500,4500,5000,5500,6500,7000,7500,8500], "grid": true, "gridColor": "#e4e4e4", "gridDash": [1,2], "tickSize": 3, "labels": false, "title": null, "domain": false}},
      "y": {"field": "e", "type": "quantitative", "scale": {"domain": [100, 160], "nice": false, "zero": false},
       "axis": {"orient": "left", "values": [102,104,106,108,112,114,116,118,122,124,126,128,132,134,136,138,142,144,146,148,152,154,156,158], "grid": true, "gridColor": "#e4e4e4", "gridDash": [1,2], "tickSize": 3, "labels": false, "title": null, "domain": false}},
      "color": {"field": "s", "type": "nominal",
       "scale": {"domain": ["Speculative 1 Processor","Implementable 1 Processor","Classical 1 Processor","Speculative 2 Processor","Implementable 2 Processor","Classical 2 Processor"], "range": ["#0000ff","#008000","#ff0000","#800080","#ffff00","#ffa500"]},
       "legend": {"title": null, "orient": "top-right", "offset": 7, "labelFontSize": 15.5, "symbolType": "circle", "symbolSize": 12, "symbolOffset": 12, "labelOffset": 0, "rowPadding": 7.3, "padding": 7, "strokeColor": "#cccccc", "fillColor": "rgba(255,255,255,0.85)", "cornerRadius": 3}}
     }
    },
    {
     "mark": {"type": "line", "strokeWidth": 4, "clip": true},
     "encoding": {
      "x": {"field": "b", "type": "quantitative", "scale": {"domain": [-425, 8925], "nice": false, "zero": false},
       "axis": {"orient": "bottom", "values": [0,2000,4000,6000,8000], "format": "d", "grid": true, "gridColor": "#d9d9d9", "tickSize": 5, "labelPadding": 5, "title": "Batch", "titlePadding": 5, "domain": false}},
      "y": {"field": "e", "type": "quantitative", "scale": {"domain": [100, 160], "nice": false, "zero": false},
       "axis": {"orient": "left", "values": [100,110,120,130,140,150,160], "grid": true, "gridColor": "#d9d9d9", "tickSize": 5, "labelPadding": 5, "title": "Percent Error", "titlePadding": 6, "domain": false}},
      "color": {"field": "s", "type": "nominal", "legend": null},
      "detail": {"field": "g", "type": "nominal"}
     }
    }
   ]
  },
  {
   "width": 574,
   "height": 433,
   "resolve": {"axis": {"x": "independent", "y": "independent"}},
   "data": {"name": "b"},
   "layer": [
    {
     "data": {"values": [{}]},
     "mark": {"type": "rect", "fill": "black", "strokeWidth": 0, "clip": false},
     "encoding": {
      "x": {"datum": -1646.7, "type": "quantitative", "scale": {"domain": [-425, 8925], "nice": false, "zero": false}, "axis": null},
      "x2": {"datum": -1565.2},
      "y": {"datum": 167.621, "type": "quantitative", "scale": {"domain": [100, 160], "nice": false, "zero": false}, "axis": null},
      "y2": {"datum": 91.686}
     }
    },
    {
     "data": {"values": [{}]},
     "mark": {"type": "rect", "fill": "black", "strokeWidth": 0, "clip": false},
     "encoding": {
      "x": {"datum": 9348.5, "type": "quantitative", "axis": null},
      "x2": {"datum": 9430},
      "y": {"datum": 167.621, "type": "quantitative", "axis": null},
      "y2": {"datum": 91.686}
     }
    },
    {
     "data": {"values": [{}]},
     "mark": {"type": "rect", "fill": "black", "strokeWidth": 0, "clip": false},
     "encoding": {
      "x": {"datum": -1646.7, "type": "quantitative", "axis": null},
      "x2": {"datum": 9430},
      "y": {"datum": 167.621, "type": "quantitative", "axis": null},
      "y2": {"datum": 166.928}
     }
    },
    {
     "data": {"values": [{}]},
     "mark": {"type": "text", "text": "(b)", "fontSize": 23, "align": "left", "baseline": "alphabetic", "clip": false, "color": "black"},
     "encoding": {
      "x": {"datum": -1533, "type": "quantitative", "axis": null},
      "y": {"datum": 162.633, "type": "quantitative", "axis": null}
     }
    },
    {
     "data": {"values": [{}]},
     "mark": {"type": "text", "text": "Average Percent Error of CGNN with Various Learning Rates", "fontSize": 21, "align": "center", "baseline": "alphabetic", "clip": false, "color": "#111111"},
     "encoding": {
      "x": {"datum": 4250, "type": "quantitative", "axis": null},
      "y": {"datum": 161.386, "type": "quantitative", "axis": null}
     }
    },
    {
     "mark": {"type": "point", "filled": true, "size": 13, "opacity": 1, "clip": true},
     "encoding": {
      "x": {"field": "b", "type": "quantitative", "scale": {"domain": [-425, 8925], "nice": false, "zero": false},
       "axis": {"orient": "bottom", "values": [500,1000,1500,2500,3000,3500,4500,5000,5500,6500,7000,7500,8500], "grid": true, "gridColor": "#e4e4e4", "gridDash": [1,2], "tickSize": 3, "labels": false, "title": null, "domain": false}},
      "y": {"field": "e", "type": "quantitative", "scale": {"domain": [100, 160], "nice": false, "zero": false},
       "axis": {"orient": "left", "values": [102,104,106,108,112,114,116,118,122,124,126,128,132,134,136,138,142,144,146,148,152,154,156,158], "grid": true, "gridColor": "#e4e4e4", "gridDash": [1,2], "tickSize": 3, "labels": false, "title": null, "domain": false}},
      "color": {"field": "s", "type": "nominal",
       "scale": {"domain": ["lr = 0.01","lr = 0.01, β₁ = 0.9, β₂ = 0.999, ε = 1e-08","lr = 0.001, β₁ = 0.5, β₂ = 0.599, ε = 1e-08","lr = 0.001"], "range": ["#ff0000","#800080","#0000ff","#008000"]},
       "legend": {"title": null, "orient": "none", "legendX": 203, "legendY": 9, "labelFontSize": 15, "symbolType": "circle", "symbolSize": 12, "symbolOffset": 9, "labelOffset": 14, "rowPadding": 7, "padding": 7, "strokeColor": "#cccccc", "fillColor": "rgba(255,255,255,0.85)", "cornerRadius": 3}}
     }
    },
    {
     "mark": {"type": "line", "strokeWidth": 4, "clip": true},
     "encoding": {
      "x": {"field": "b", "type": "quantitative", "scale": {"domain": [-425, 8925], "nice": false, "zero": false},
       "axis": {"orient": "bottom", "values": [0,2000,4000,6000,8000], "format": "d", "grid": true, "gridColor": "#d9d9d9", "tickSize": 5, "labelPadding": 5, "title": "Batch", "titlePadding": 5, "domain": false}},
      "y": {"field": "e", "type": "quantitative", "scale": {"domain": [100, 160], "nice": false, "zero": false},
       "axis": {"orient": "left", "values": [100,110,120,130,140,150,160], "grid": true, "gridColor": "#d9d9d9", "tickSize": 5, "labelPadding": 5, "title": "Percent Error", "titlePadding": 6, "domain": false}},
      "color": {"field": "s", "type": "nominal", "legend": null}
     }
    }
   ]
  }
 ]
}
